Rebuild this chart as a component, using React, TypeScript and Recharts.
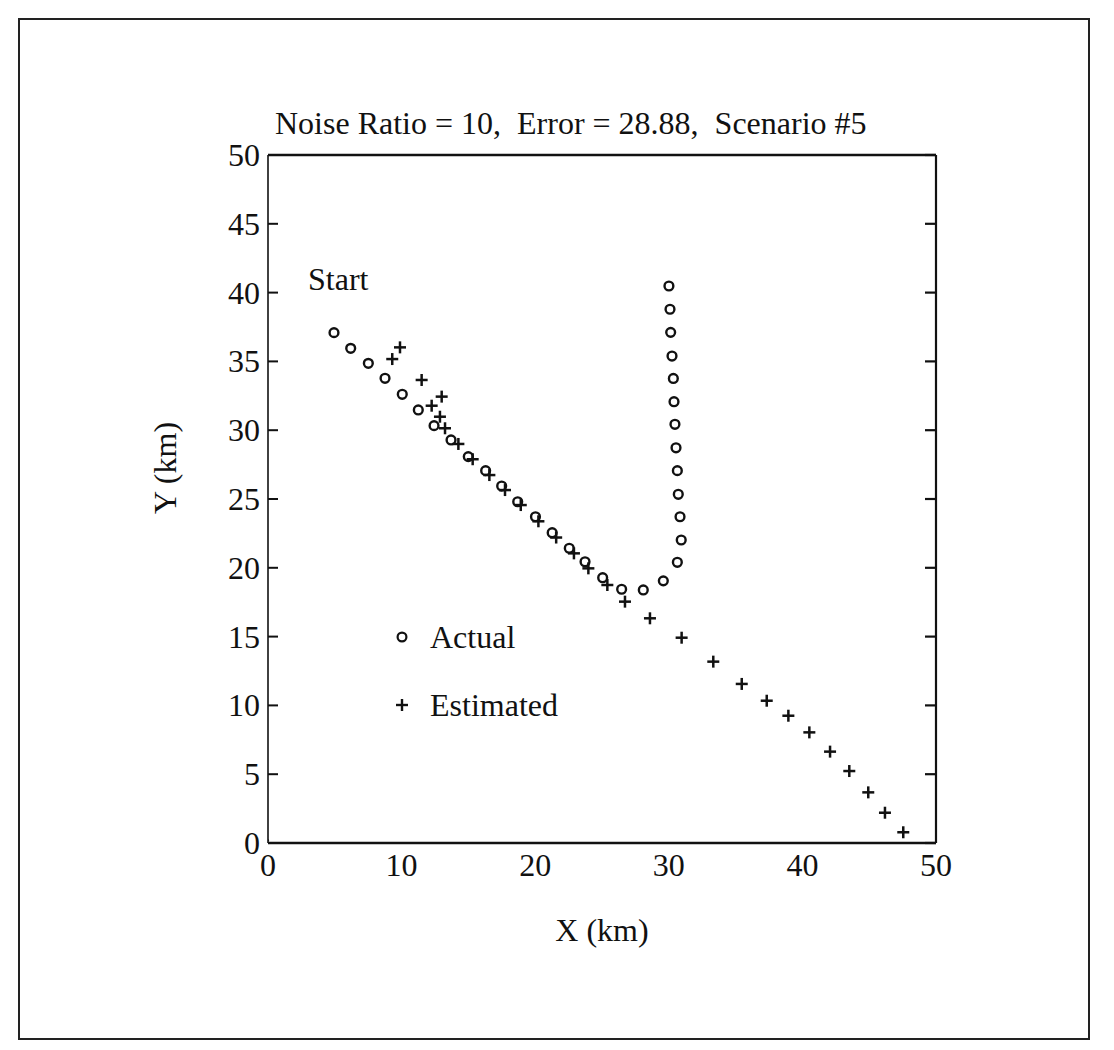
import React from "react";
import { ScatterChart, Scatter, XAxis, YAxis, ReferenceLine } from "recharts";

// Actual track (km), start -> turn -> north leg
const actualX = [
  4.94, 6.19, 7.51, 8.76, 10.05, 11.25, 12.43, 13.7, 14.99, 16.29, 17.49,
  18.69, 20.02, 21.27, 22.55, 23.73, 25.05, 26.47, 28.09, 29.59, 30.64,
  30.93, 30.84, 30.71, 30.64, 30.54, 30.46, 30.39, 30.34, 30.24, 30.14,
  30.09, 30.01,
];
const actualY = [
  37.09, 35.95, 34.86, 33.77, 32.61, 31.47, 30.33, 29.29, 28.08, 27.06,
  25.94, 24.8, 23.71, 22.55, 21.42, 20.44, 19.28, 18.44, 18.39, 19.05, 20.4,
  22.02, 23.71, 25.34, 27.06, 28.72, 30.43, 32.07, 33.76, 35.39, 37.11,
  38.79, 40.48,
];

// Estimated track (km)
const estX = [
  9.88, 9.3, 11.5, 13.0, 12.25, 12.87, 13.25, 14.25, 15.32, 16.57, 17.74,
  18.92, 20.24, 21.57, 22.9, 23.98, 25.4, 26.72, 28.59, 30.96, 33.33, 35.46,
  37.33, 38.95, 40.52, 42.07, 43.51, 44.93, 46.18, 47.55,
];
const estY = [
  36.02, 35.17, 33.65, 32.44, 31.78, 30.98, 30.14, 29.0, 27.89, 26.74,
  25.65, 24.56, 23.38, 22.2, 21.05, 19.96, 18.75, 17.54, 16.33, 14.92, 13.18,
  11.56, 10.34, 9.25, 8.04, 6.64, 5.23, 3.68, 2.2, 0.78,
];

// observer position at the origin
const observerX = [0];
const observerY = [0];

const xTicks = [0, 10, 20, 30, 40, 50];
const yTicks = [0, 5, 10, 15, 20, 25, 30, 35, 40, 45, 50];

const INK = "#111";
const FONT = '"Liberation Serif", "DejaVu Serif", serif';
const FS = 32;

const toPoints = (xs: number[], ys: number[]) =>
  xs.map((x, i) => ({ x, y: ys[i] }));

function RingShape(props: any) {
  const { cx, cy } = props;
  return (
    <circle cx={cx} cy={cy} r={4.4} fill="none" stroke={INK} strokeWidth={2.4} />
  );
}

function PlusShape(props: any) {
  const { cx, cy } = props;
  const s = 6;
  return (
    <g stroke={INK} strokeWidth={2.5}>
      <line x1={cx - s} y1={cy} x2={cx + s} y2={cy} />
      <line x1={cx} y1={cy - s} x2={cx} y2={cy + s} />
    </g>
  );
}

function CrossShape(props: any) {
  const { cx, cy } = props;
  const s = 3.5;
  return (
    <g stroke={INK} strokeWidth={2.2}>
      <line x1={cx - s - 3} y1={cy - s} x2={cx + s - 3} y2={cy + s} />
      <line x1={cx - s - 3} y1={cy + s} x2={cx + s - 3} y2={cy - s} />
    </g>
  );
}

const TICK_MARGIN = 8;

function LeftTick(props: any) {
  const { x, y, payload } = props;
  return (
    <g>
      <line
        x1={x + TICK_MARGIN}
        y1={y}
        x2={x + TICK_MARGIN + 10}
        y2={y}
        stroke={INK}
        strokeWidth={2}
      />
      <text
        x={x}
        y={y}
        textAnchor="end"
        dominantBaseline="central"
        fontSize={FS}
        fontFamily={FONT}
        fill={INK}
      >
        {payload.value}
      </text>
    </g>
  );
}

function RightTick(props: any) {
  const { x, y } = props;
  return <line x1={x} y1={y} x2={x - 11} y2={y} stroke={INK} strokeWidth={2.2} />;
}

function LegendBox() {
  const row: React.CSSProperties = {
    display: "flex",
    alignItems: "center",
    height: 68,
  };
  const text: React.CSSProperties = {
    fontFamily: FONT,
    fontSize: FS,
    color: INK,
    marginLeft: 16,
  };
  return (
    <div style={{ position: "absolute", left: 390, top: 603 }}>
      <div style={row}>
        <svg width={24} height={24}>
          <circle cx={12} cy={12} r={4.4} fill="none" stroke={INK} strokeWidth={2.2} />
        </svg>
        <span style={text}>Actual</span>
      </div>
      <div style={row}>
        <svg width={24} height={24}>
          <g stroke={INK} strokeWidth={2.4}>
            <line x1={6} y1={12} x2={18} y2={12} />
            <line x1={12} y1={6} x2={12} y2={18} />
          </g>
        </svg>
        <span style={text}>Estimated</span>
      </div>
    </div>
  );
}

export default function App() {
  const actual = toPoints(actualX, actualY);
  const estimated = toPoints(estX, estY);
  const observer = toPoints(observerX, observerY);

  const label: React.CSSProperties = {
    position: "absolute",
    fontFamily: FONT,
    fontSize: FS,
    color: INK,
    whiteSpace: "pre",
    lineHeight: 1,
  };

  return (
    <div
      style={{
        position: "absolute",
        left: 0,
        top: 0,
        width: 1114,
        height: 1050,
        background: "#fff",
      }}
    >
      <div
        style={{
          position: "absolute",
          left: 18,
          top: 18,
          width: 1072,
          height: 1022,
          border: "2px solid #222",
          boxSizing: "border-box",
        }}
      />
      <ScatterChart
        width={1114}
        height={1050}
        margin={{ top: 155, right: 178, bottom: 147, left: 208 }}
        style={{ position: "absolute", left: 0, top: 0 }}
      >
        <XAxis
          type="number"
          dataKey="x"
          domain={[0, 50]}
          ticks={xTicks}
          height={60}
          tickSize={0}
          tickMargin={10}
          tickLine={false}
          axisLine={{ stroke: INK, strokeWidth: 2.5 }}
          tick={{ fontSize: FS, fontFamily: FONT, fill: INK }}
          allowDataOverflow
        />
        <YAxis
          type="number"
          dataKey="y"
          domain={[0, 50]}
          ticks={yTicks}
          width={60}
          tickSize={0}
          tickMargin={TICK_MARGIN}
          tickLine={false}
          axisLine={{ stroke: INK, strokeWidth: 1.6 }}
          tick={<LeftTick />}
          allowDataOverflow
        />
        <YAxis
          yAxisId="r"
          orientation="right"
          type="number"
          dataKey="y"
          domain={[0, 50]}
          ticks={yTicks}
          width={20}
          mirror
          tickSize={0}
          tickMargin={0}
          tickLine={false}
          axisLine={{ stroke: INK, strokeWidth: 2.2 }}
          tick={<RightTick />}
          allowDataOverflow
        />
        <ReferenceLine y={50} stroke={INK} strokeWidth={2.5} />
        <Scatter
          name="Actual"
          data={actual}
          shape={<RingShape />}
          isAnimationActive={false}
        />
        <Scatter
          name="Estimated"
          data={estimated}
          shape={<PlusShape />}
          isAnimationActive={false}
        />
        <Scatter
          name="Observer"
          yAxisId="r"
          data={observer}
          shape={<CrossShape />}
          isAnimationActive={false}
        />
      </ScatterChart>

      <LegendBox />
      <div style={{ ...label, left: 275, top: 107 }}>
        {"Noise Ratio = 10,  Error = 28.88,  Scenario #5"}
      </div>
      <div style={{ ...label, left: 308, top: 263 }}>Start</div>
      <div
        style={{
          ...label,
          left: 602,
          top: 930,
          transform: "translate(-50%, -50%)",
        }}
      >
        X (km)
      </div>
      <div
        style={{
          ...label,
          left: 165,
          top: 468,
          transform: "translate(-50%, -50%) rotate(-90deg)",
        }}
      >
        Y (km)
      </div>
    </div>
  );
}
